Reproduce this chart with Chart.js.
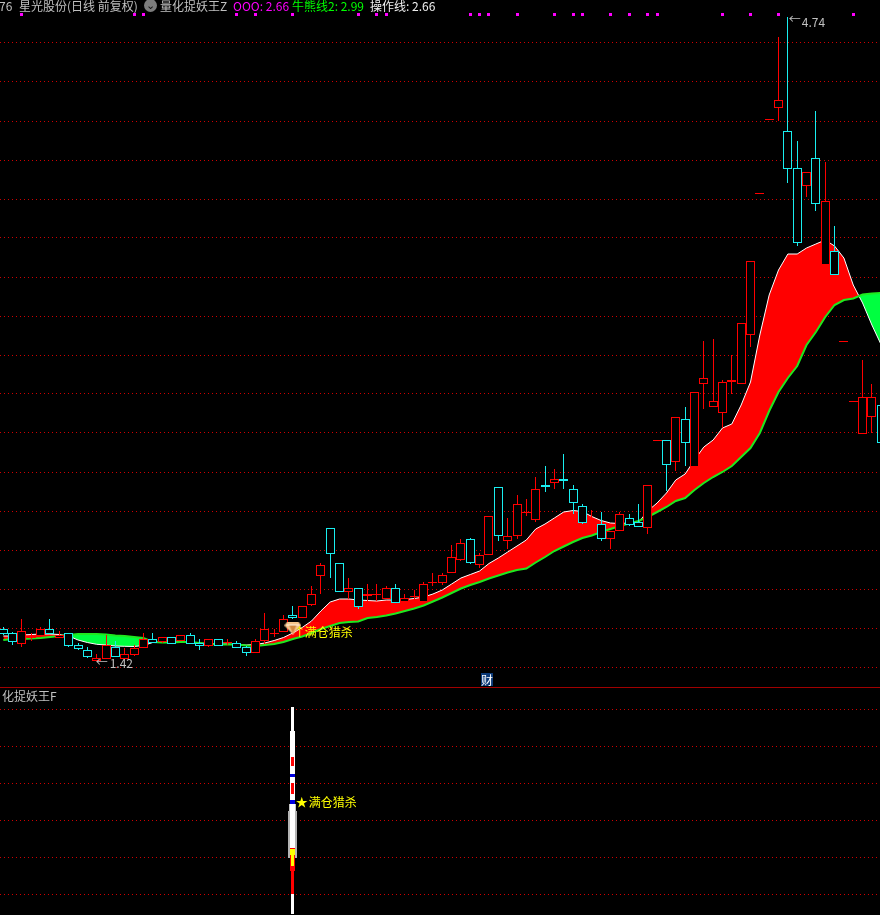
<!DOCTYPE html>
<html>
<head>
<meta charset="utf-8">
<title>星光股份</title>
<script src="https://cdn.jsdelivr.net/npm/chart.js@4"></script>
<style>
  html, body { margin: 0; padding: 0; background: #000; }
  #page { position: relative; width: 880px; height: 915px; overflow: hidden; background: #000;
          font: 12px/12px "Noto Sans CJK SC", sans-serif; }
  canvas { position: absolute; left: 0; }
  #mainChart { top: 0; }
  #subChart { top: 688px; }
  #sep { position: absolute; left: 0; top: 687px; width: 880px; height: 1px; background: #a00000; }
  .t { position: absolute; white-space: nowrap; color: #c0c0c0; }
  #badge { position: absolute; left: 481px; top: 673px; width: 12px; height: 13px; background: #0c3a78;
           color: #fff; text-align: center; line-height: 13px; }
  #drop { position: absolute; left: 144px; top: -1px; width: 13px; height: 13px; border-radius: 7px;
          background: #7c7c7c; color: #111; font-size: 11px; line-height: 11px; text-align: center; }
</style>
</head>
<body>
<div id="page">
  <canvas id="mainChart" width="880" height="687"></canvas>
  <canvas id="subChart" width="880" height="227"></canvas>
  <div id="sep"></div>
  <span class="t" style="left:-1px;top:0">76</span>
  <span class="t" style="left:19px;top:0">星光股份(日线 前复权)</span>
  <span id="drop">⌄</span>
  <span class="t" style="left:160px;top:0">量化捉妖王Z</span>
  <span class="t" style="left:233px;top:0;color:#ff00ff">OOO: 2.66</span>
  <span class="t" style="left:292px;top:0;color:#00ff00">牛熊线2: 2.99</span>
  <span class="t" style="left:370px;top:0;color:#f0f0f0">操作线: 2.66</span>
  <span class="t" style="left:2px;top:690px">化捉妖王F</span>
  <div id="badge">财</div>
</div>
<script>
var candleIdx = [];
for (var n = 0; n < 95; n++) candleIdx.push(n);

var opens = [38,34,23,29,31,38,29,34,22,17,6,8,20,8,12,19,28,25,30,26,32,24,21,28,24,24,20,14,26,33,35,52,49,62,91,139,104,75,79,71,72,68,79,65,70,65,84,84,94,107,128,102,112,180,126,131,154,147,182,184,188,178,161,141,143,128,136,149,145,139,226,227,205,248,200,283,260,254,285,283,332,473,547,559,536,499,481,509,402,416,325,265,233,250,262];
var closes = [33,25,36,30,38,33,32,21,18,10,9,22,10,13,19,28,24,30,23,32,23,21,28,21,25,19,14,26,38,34,48,49,61,73,102,113,75,79,60,73,73,79,64,69,71,83,85,92,110,124,104,112,151,131,131,163,155,178,180,188,186,164,144,142,128,136,153,142,140,182,227,202,250,224,275,289,266,285,287,344,406,474,548,567,498,424,495,463,466,392,326,266,270,270,224];
var highs = [40,35,48,34,40,48,36,34,24,20,13,32,26,19,22,34,34,30,30,32,34,28,28,28,28,26,21,28,54,38,52,61,61,81,104,139,104,89,79,83,83,81,83,73,77,85,94,94,122,128,129,114,151,180,149,172,168,190,201,198,213,182,163,157,155,136,155,153,163,182,227,227,250,260,275,326,328,287,312,344,406,474,548,630,650,526,495,556,505,441,326,266,307,283,262];
var lows = [32,22,20,26,30,33,29,20,17,9,6,8,10,7,11,19,24,24,23,26,23,17,20,21,22,19,11,14,23,30,35,48,49,61,73,89,75,68,58,66,66,68,64,65,67,65,81,82,94,106,103,99,112,126,118,128,151,145,175,178,178,153,143,141,126,118,136,141,140,133,226,176,196,201,200,258,260,239,273,283,320,473,547,546,484,421,470,456,402,392,325,265,233,234,224];

var operateLine = [31,31,32,32.5,33,33,32.5,31,27,24.5,22.7,22,21,20.7,20.5,21.5,24.5,25,25,25,24.7,24,23.5,23,23,22.5,22,22.5,24,26.5,29.5,34,39.5,46,56,65,68,68,67,66.5,66,67,67,67.5,68.5,70,73,77,83,89,92.5,96,103.5,109,115,121,127,138,143,149,155,156.5,155.5,150.5,146.5,144,143.5,144,144.5,156,164,174,187,193,207,220,227,239,243,262,285,332,372,397,413,413,419,423,427,421,409,382,364,342,322];
var bullBearLine = [27,28,28,28.5,29,30,31,32,33,33,33,32.5,31.5,31,30,29,25,24.5,24.5,25,25,24,23,22.5,22.5,22.5,21.5,21,22,23,25,28,30.5,34,38,41,44,45,45.5,49,50,51.5,53.5,56,58.5,61.5,65.5,69.5,74,78.5,82,85,88.5,91.5,94.5,97,98.5,104.5,110,116,120.5,125,129,131.5,135,138,141,143.5,146,150,155,160,166,169,177,184,190,195,201,210,219,234,256,275,289,301,322,335,350,362,367,368.5,372.5,373.5,374];

var signalIdx = [2,14,15,25,27,31,38,40,41,50,51,52,55,59,61,62,65,67,69,70,77,80,83,91];
var signalBand = [651, 654];
var gemIdx = 31;
var gemLevel = 39;

var gridLevels = [0,39,78,117,156,195,234,273,312,351,390,429,468,507,546,585,624];
var subGridLevels = [0,37,74,111,148,185];

// lower panel, everything sits on the signal day
var subGray = [36, 83];
var subGrayTop = [83, 90];
var subWhiteThin = [-20, 187];
var subWhite = [46, 163];
var subBlue = [[117, 120], [90, 94]];
var subRedWide = [[45, 46], [23, 39]];
var subYellowWide = [39, 45];
var subRedThin = [[128, 137], [100, 111], [0, 23]];
var subYellowThin = [28, 39];

var notesMain = [
  { i: 84, v: 648, text: '←', color: '#c0c0c0', dx: 1, dy: 0 },
  { i: 84, v: 645, text: '4.74', color: '#c0c0c0', dx: 14, dy: 0 },
  { i: 10, v: 5, text: '←', color: '#c0c0c0', dx: -1, dy: 0 },
  { i: 10, v: 4, text: '1.42', color: '#c0c0c0', dx: 13, dy: 0 },
  { i: 31, v: 35, text: '↑', color: '#ffff00', dx: 1, dy: 0 },
  { i: 31, v: 35, text: '满仓猎杀', color: '#ffff00', dx: 12, dy: 0 }
];
var notesSub = [
  { i: 31, v: 92, text: '★', color: '#ffff00', dx: 3, dy: 0 },
  { i: 31, v: 92, text: '满仓猎杀', color: '#ffff00', dx: 16, dy: 0 }
];

var UP = '#ff0000';
var DOWN = '#19eef0';
var XMIN = -0.3533;
var XMAX = 93.865;

function pts(idx, vals) {
  return idx.map(function(x, k) { return { x: x, y: vals[k] }; });
}

function band(vals) {
  return vals.map(function(v) { return { x: gemIdx, y: v }; });
}

function bar(data, color, width, order) {
  return {
    type: 'bar', data: data, backgroundColor: color, borderWidth: 0,
    barThickness: width, grouped: false, inflateAmount: 0, order: order
  };
}

// keep bars on whole pixels like the original
var snapBars = {
  id: 'snapBars',
  beforeDatasetsDraw: function(chart) {
    chart.getSortedVisibleDatasetMetas().forEach(function(meta) {
      if (meta.type !== 'bar') return;
      meta.data.forEach(function(el) {
        el.x = Math.floor(el.x) + 0.5;
        el.y = Math.round(el.y);
        el.base = Math.round(el.base);
      });
    });
  }
};

var drawNotes = {
  id: 'drawNotes',
  afterDatasetsDraw: function(chart, args, opts) {
    var ctx = chart.ctx;
    ctx.save();
    ctx.font = '12px "Noto Sans CJK SC", sans-serif';
    ctx.textBaseline = 'middle';
    opts.items.forEach(function(note) {
      ctx.fillStyle = note.color;
      ctx.fillText(note.text,
        chart.scales.x.getPixelForValue(note.i) + note.dx,
        chart.scales.y.getPixelForValue(note.v) + note.dy);
    });
    ctx.restore();
  }
};

function gemIcon() {
  var c = document.createElement('canvas');
  c.width = 17;
  c.height = 13;
  var g = c.getContext('2d');
  g.fillStyle = '#f4c48c';
  g.beginPath();
  g.moveTo(3, 0); g.lineTo(14, 0); g.lineTo(17, 4); g.lineTo(8.5, 13); g.lineTo(0, 4);
  g.closePath();
  g.fill();
  g.fillStyle = '#fff3e0';
  g.fillRect(2, 3, 13, 1);
  g.fillStyle = '#d08840';
  g.beginPath();
  g.moveTo(5, 4); g.lineTo(12, 4); g.lineTo(8.5, 12);
  g.closePath();
  g.fill();
  return c;
}

function axes(ticksFrom, ymin, ymax) {
  return {
    x: { type: 'linear', display: false, offset: false, min: XMIN, max: XMAX },
    y: {
      min: ymin, max: ymax,
      afterBuildTicks: function(scale) {
        scale.ticks = ticksFrom.map(function(v) { return { value: v }; });
      },
      ticks: { display: false, autoSkip: false },
      grid: { color: '#d00000', lineWidth: 1, drawTicks: false },
      border: { display: false, dash: [1, 3] }
    }
  };
}

function baseOptions(scales, noteItems) {
  return {
    responsive: false,
    animation: false,
    events: [],
    devicePixelRatio: 1,
    layout: { padding: 0, autoPadding: false },
    scales: scales,
    plugins: { legend: { display: false }, tooltip: { enabled: false }, drawNotes: { items: noteItems } }
  };
}

var colors = candleIdx.map(function(i) { return closes[i] >= opens[i] ? UP : DOWN; });

var wicks = bar(candleIdx.map(function(i) { return { x: i, y: [lows[i], highs[i]] }; }), colors, 1, 2);

var bodies = bar(candleIdx.map(function(i) { return { x: i, y: [opens[i], closes[i]] }; }), '#000000', 9, 1);
bodies.borderColor = colors;
bodies.borderWidth = 1;
bodies.borderSkipped = false;

new Chart(document.getElementById('mainChart'), {
  data: {
    datasets: [
      {
        type: 'line', data: pts(candleIdx, operateLine), borderColor: '#ffffff', borderWidth: 1,
        pointRadius: 0, tension: 0, order: 4,
        fill: { target: '+1', above: '#ff0000', below: '#00ff40' }
      },
      {
        type: 'line', data: pts(candleIdx, bullBearLine), borderColor: '#1fe81f', borderWidth: 2,
        pointRadius: 0, tension: 0, order: 3
      },
      wicks,
      bodies,
      bar(signalIdx.map(function(i) { return { x: i, y: signalBand }; }), '#ff00ff', 3, 1),
      {
        type: 'line', data: [{ x: gemIdx, y: gemLevel }], showLine: false,
        pointStyle: gemIcon(), pointRadius: 8, order: 0
      }
    ]
  },
  options: baseOptions(axes(gridLevels, -20, 667), notesMain),
  plugins: [snapBars, drawNotes]
});

new Chart(document.getElementById('subChart'), {
  data: {
    datasets: [
      bar(band([subGray]), '#b4b4b4', 9, 9),
      bar(band([subGrayTop]), '#c4c4c4', 7, 8),
      bar(band([subWhiteThin]), '#ffffff', 3, 7),
      bar(band([subWhite]), '#ffffff', 5, 6),
      bar(band(subBlue), '#0000e0', 5, 5),
      bar(band(subRedWide), '#ff0000', 5, 4),
      bar(band([subYellowWide]), '#ffff00', 5, 3),
      bar(band(subRedThin), '#ff0000', 3, 2),
      bar(band([subYellowThin]), '#ffff00', 3, 1)
    ]
  },
  options: baseOptions(axes(subGridLevels, -21, 206), notesSub),
  plugins: [snapBars, drawNotes]
});
</script>
</body>
</html>
